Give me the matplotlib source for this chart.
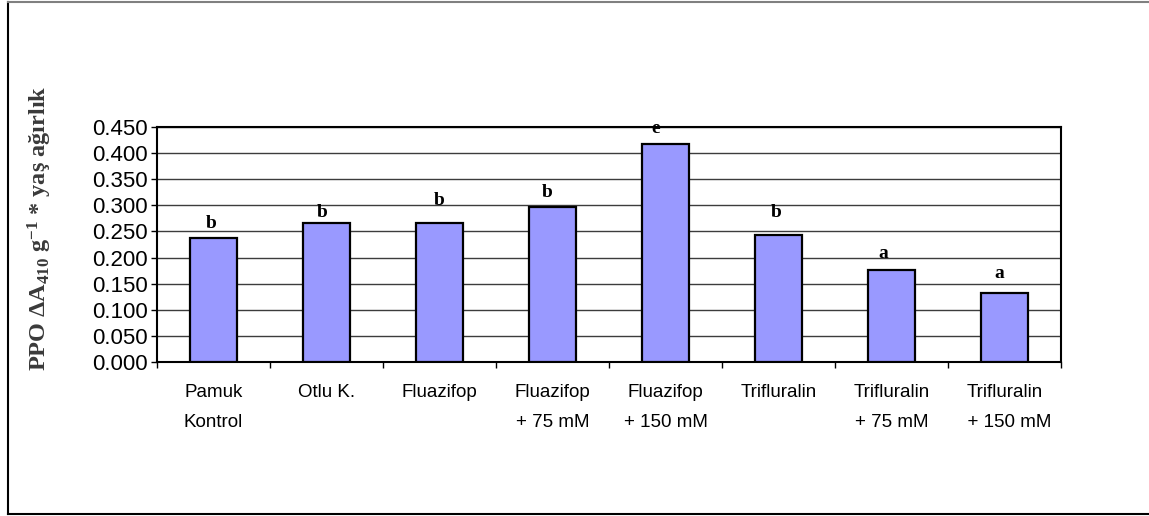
import numpy as np
import matplotlib
matplotlib.use("Agg")
import matplotlib.pyplot as plt
from matplotlib.lines import Line2D

# Veriler
kategoriler = ["Pamuk\nKontrol", "Otlu K.", "Fluazifop", "Fluazifop\n+ 75 mM",
               "Fluazifop\n+ 150 mM", "Trifluralin", "Trifluralin\n+ 75 mM",
               "Trifluralin\n  + 150 mM"]
ppo_degerleri = [0.237, 0.266, 0.266, 0.296, 0.418, 0.243, 0.176, 0.133]
harfler = ["b", "b", "b", "b", "e", "b", "a", "a"]
harf_y = [0.257, 0.278, 0.301, 0.316, 0.439, 0.278, 0.199, 0.161]
harf_dx = [-0.02, -0.04, 0.0, -0.05, -0.09, -0.02, -0.07, -0.05]
y_ticks = np.arange(0, 0.451, 0.05)

plt.rcParams['mathtext.fontset'] = 'custom'
plt.rcParams['mathtext.rm'] = 'Liberation Serif:bold'
plt.rcParams['mathtext.it'] = 'Liberation Serif:bold'
plt.rcParams['mathtext.bf'] = 'Liberation Serif:bold'

fig = plt.figure(figsize=(11.49, 5.16), dpi=100)
ax = fig.add_axes([157/1149, 1 - 362/516, (1061 - 157)/1149, (362 - 127)/516])

x = np.arange(len(kategoriler))
ax.bar(x, ppo_degerleri, width=0.42, color='#9999ff', edgecolor='black',
       linewidth=1.6, zorder=3)

# Anlamlılık harfleri
for i, (h, yy, dx) in enumerate(zip(harfler, harf_y, harf_dx)):
    ax.text(x[i] + dx, yy, h, ha='center', va='baseline',
            fontfamily='Liberation Serif', fontweight='bold', fontsize=14)

ax.set_xlim(-0.5, len(kategoriler) - 0.5)
ax.set_ylim(0, 0.45)
ax.set_yticks(y_ticks)
ax.set_yticklabels([f"{v:.3f}" for v in y_ticks], fontfamily='Liberation Sans',
                   fontsize=16)
ax.yaxis.grid(True, color='#3c3c3c', linewidth=1.0, zorder=0)
ax.set_axisbelow(True)

# x ekseni: işaretler kategori sınırlarında, etiketler ortada
ax.set_xticks(np.arange(-0.5, len(kategoriler), 1.0))
ax.set_xticklabels([])
ax.set_xticks(x, minor=True)
ax.set_xticklabels(kategoriler, minor=True, fontfamily='Liberation Sans',
                   fontsize=13.5, linespacing=2.0)
ax.tick_params(axis='x', which='minor', length=0, pad=16)
ax.tick_params(axis='x', which='major', direction='out', length=4, width=1)
ax.tick_params(axis='y', direction='out', length=4.5, width=1, pad=2)

for s in ax.spines.values():
    s.set_linewidth(1.5)
    s.set_color('black')

fig.text(40/1149, 1 - 228/516,
         r'PPO $\Delta$A$_{410}$ g$^{-1}$ * yaş ağırlık',
         rotation=90, ha='center', va='center', color='#3a3a3a',
         fontfamily='Liberation Serif', fontweight='bold', fontsize=17.5)

# Dış çerçeve
fig.add_artist(Line2D([8/1149, 8/1149], [1 - 2/516, 1 - 514/516],
                      transform=fig.transFigure, color='black', lw=1.5))
fig.add_artist(Line2D([8/1149, 1.0], [1 - 514/516, 1 - 514/516],
                      transform=fig.transFigure, color='black', lw=1.5))
fig.add_artist(Line2D([8/1149, 1.0], [1 - 2/516, 1 - 2/516],
                      transform=fig.transFigure, color='#808080', lw=1.5))

fig.savefig("out.png", dpi=100)
